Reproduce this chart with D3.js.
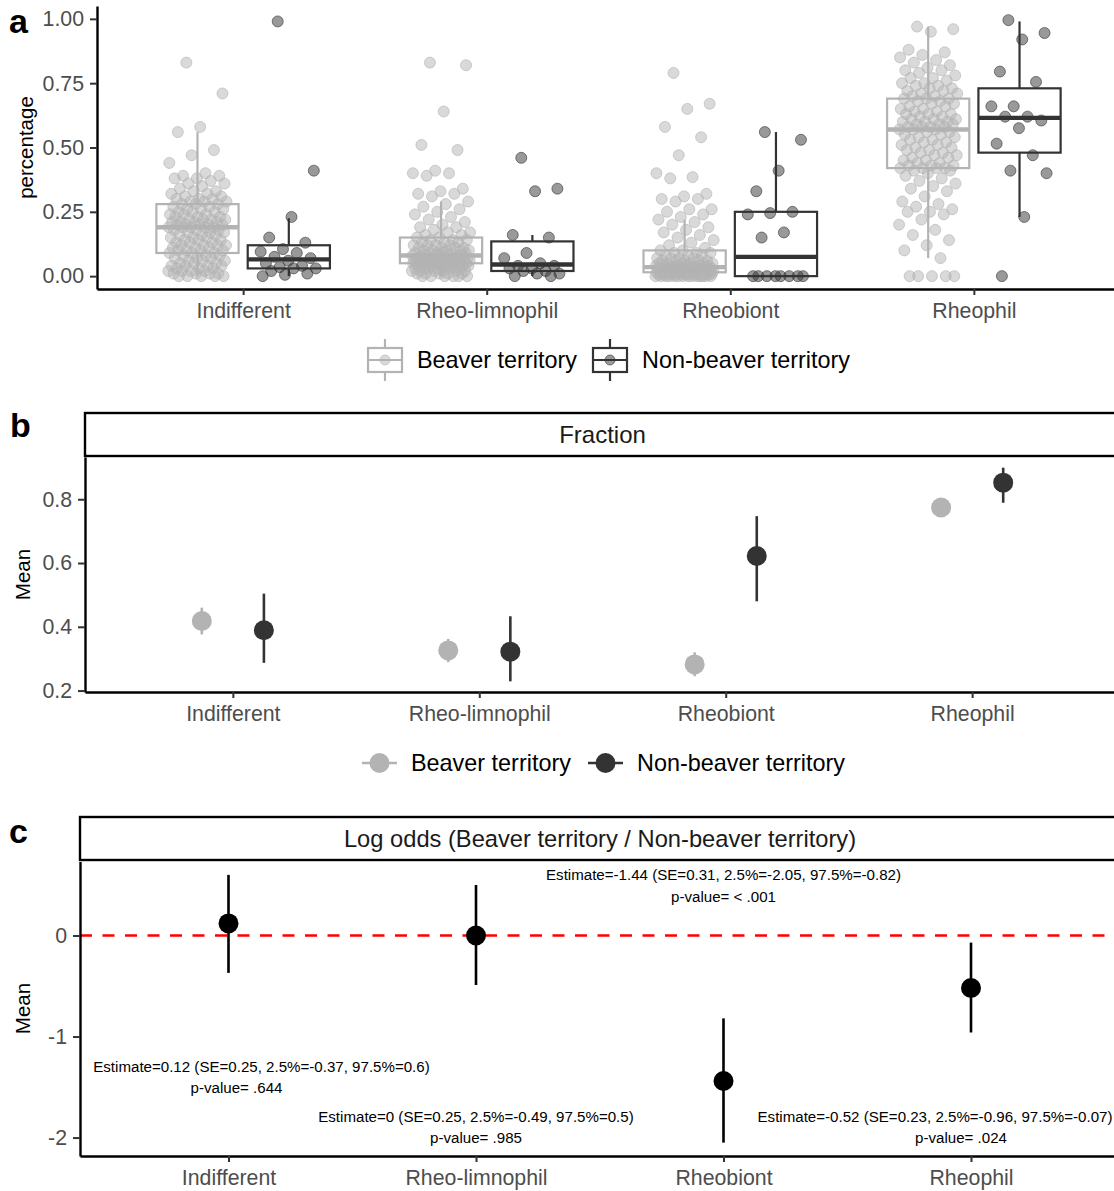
<!DOCTYPE html>
<html>
<head>
<meta charset="utf-8">
<script src="https://cdn.jsdelivr.net/npm/d3@7"></script>
<style>
  body { margin: 0; background: #fff; }
  svg { display: block; font-family: "Liberation Sans", Arial, Helvetica, sans-serif; }
</style>
</head>
<body>
<svg id="fig" width="1114" height="1191"></svg>
<script>
// ---------- data ----------
const categories = ["Indifferent", "Rheo-limnophil", "Rheobiont", "Rheophil"];
const groups = ["Beaver territory", "Non-beaver territory"];

// box summaries per category: [lower whisker, Q1, median, Q3, upper whisker]
const beaverBox = [
  [0.00, 0.09, 0.19, 0.28, 0.56],
  [0.00, 0.05, 0.08, 0.15, 0.29],
  [0.00, 0.015, 0.035, 0.10, 0.22],
  [0.07, 0.42, 0.57, 0.69, 0.97]
];
const nonBeaverBox = [
  [0.00, 0.03, 0.065, 0.12, 0.225],
  [0.00, 0.02, 0.045, 0.135, 0.16],
  [0.00, 0.00, 0.075, 0.25, 0.56],
  [0.23, 0.48, 0.615, 0.73, 0.99]
];

// site-level percentages, beaver territory
const beaverIndifferent = [0.83,0.71,0.58,0.56,0.49,0.47,0.44,0.40,0.39,0.39,0.38,0.38,0.37,0.36,0.36,0.35,0.34,0.33,0.33,0.32,0.32,0.31,0.31,0.30,0.30,0.30,0.29,0.29,0.29,0.28,0.28,0.28,
  0.27,0.27,0.26,0.26,0.26,0.25,0.25,0.25,0.24,0.24,0.24,0.23,0.23,0.23,0.22,0.22,0.22,0.22,0.21,0.21,0.21,0.21,0.20,0.20,0.20,0.20,0.20,0.19,0.19,0.19,0.19,0.19,
  0.18,0.18,0.18,0.17,0.17,0.17,0.16,0.16,0.16,0.15,0.15,0.15,0.14,0.14,0.14,0.13,0.13,0.13,0.12,0.12,0.12,0.12,0.11,0.11,0.11,0.10,0.10,0.10,0.10,0.09,0.09,0.09,
  0.08,0.08,0.08,0.07,0.07,0.07,0.06,0.06,0.06,0.05,0.05,0.05,0.04,0.04,0.04,0.04,0.03,0.03,0.03,0.02,0.02,0.02,0.02,0.01,0.01,0.01,0.01,0.00,0.00,0.00,0.00,0.00];
const beaverRheoLimnophil = [0.83,0.82,0.64,0.51,0.49,0.41,0.40,0.40,0.39,0.34,0.33,0.32,0.32,0.31,0.29,0.28,0.27,0.26,0.25,0.24,0.23,0.22,0.21,0.20,0.19,0.19,0.18,0.17,0.17,0.16,0.16,0.15,
  0.15,0.14,0.14,0.14,0.13,0.13,0.13,0.12,0.12,0.12,0.12,0.11,0.11,0.11,0.11,0.10,0.10,0.10,0.10,0.10,0.09,0.09,0.09,0.09,0.09,0.09,0.08,0.08,0.08,0.08,0.08,0.08,
  0.08,0.08,0.07,0.07,0.07,0.07,0.07,0.07,0.07,0.07,0.06,0.06,0.06,0.06,0.06,0.06,0.06,0.06,0.06,0.05,0.05,0.05,0.05,0.05,0.05,0.05,0.05,0.05,0.05,0.05,0.05,0.05,
  0.04,0.04,0.04,0.04,0.04,0.04,0.04,0.04,0.03,0.03,0.03,0.03,0.03,0.03,0.03,0.02,0.02,0.02,0.02,0.02,0.02,0.01,0.01,0.01,0.01,0.01,0.00,0.00,0.00,0.00,0.00,0.00];
const beaverRheobiont = [0.79,0.67,0.65,0.58,0.54,0.47,0.40,0.385,0.38,0.32,0.31,0.30,0.30,0.29,0.26,0.26,0.25,0.24,0.23,0.22,0.21,0.20,0.19,0.18,0.17,0.16,0.15,0.14,0.13,0.12,0.11,0.10,
  0.10,0.09,0.09,0.09,0.08,0.08,0.08,0.07,0.07,0.07,0.07,0.06,0.06,0.06,0.06,0.06,0.05,0.05,0.05,0.05,0.05,0.05,0.04,0.04,0.04,0.04,0.04,0.04,0.04,0.04,0.035,0.035,
  0.035,0.03,0.03,0.03,0.03,0.03,0.03,0.03,0.03,0.03,0.03,0.03,0.025,0.025,0.025,0.025,0.025,0.025,0.02,0.02,0.02,0.02,0.02,0.02,0.02,0.02,0.02,0.02,0.015,0.015,0.015,0.015,
  0.01,0.01,0.01,0.01,0.01,0.01,0.01,0.01,0.01,0.01,0.005,0.005,0.005,0.005,0.005,0.005,0.005,0.005,0.00,0.00,0.00,0.00,0.00,0.00,0.00,0.00,0.00,0.00,0.00,0.00,0.00,0.00];
const beaverRheophil = [0.97,0.96,0.95,0.88,0.87,0.86,0.85,0.84,0.83,0.82,0.81,0.80,0.80,0.79,0.78,0.77,0.77,0.76,0.75,0.75,0.74,0.74,0.73,0.73,0.72,0.72,0.71,0.71,0.70,0.70,0.69,0.69,
  0.69,0.68,0.68,0.67,0.67,0.66,0.66,0.65,0.65,0.64,0.64,0.63,0.63,0.63,0.62,0.62,0.61,0.61,0.61,0.60,0.60,0.60,0.59,0.59,0.59,0.58,0.58,0.58,0.58,0.57,0.57,0.57,
  0.56,0.56,0.55,0.55,0.54,0.54,0.53,0.53,0.52,0.52,0.51,0.51,0.50,0.50,0.49,0.49,0.48,0.48,0.47,0.47,0.46,0.46,0.45,0.45,0.44,0.44,0.43,0.43,0.43,0.42,0.42,0.42,
  0.42,0.41,0.41,0.40,0.39,0.38,0.37,0.36,0.35,0.34,0.33,0.31,0.29,0.28,0.27,0.26,0.25,0.25,0.24,0.22,0.20,0.18,0.16,0.14,0.12,0.10,0.07,0.00,0.00,0.00,0.00,0.00];

// site-level percentages, non-beaver territory
const nonBeaverIndifferent = [0.99,0.41,0.23,0.15,0.13,0.105,0.095,0.09,0.075,0.07,0.06,0.05,0.04,0.035,0.03,0.03,0.02,0.01,0.005,0.00];
const nonBeaverRheoLimnophil = [0.46,0.34,0.33,0.16,0.15,0.09,0.07,0.05,0.04,0.04,0.03,0.03,0.02,0.02,0.01,0.01,0.00,0.00];
const nonBeaverRheobiont = [0.56,0.53,0.41,0.33,0.25,0.245,0.24,0.17,0.15,0.00,0.00,0.00,0.00,0.00,0.00,0.00,0.00];
const nonBeaverRheophil = [0.995,0.945,0.92,0.795,0.755,0.66,0.66,0.62,0.62,0.605,0.575,0.515,0.47,0.41,0.40,0.23,0.00];

const beaverPoints = [beaverIndifferent, beaverRheoLimnophil, beaverRheobiont, beaverRheophil];
const nonBeaverPoints = [nonBeaverIndifferent, nonBeaverRheoLimnophil, nonBeaverRheobiont, nonBeaverRheophil];

// model fraction means with 95% intervals
const fracBeaverMean = [0.418, 0.326, 0.282, 0.774];
const fracBeaverLo   = [0.376, 0.289, 0.245, 0.760];
const fracBeaverHi   = [0.460, 0.362, 0.320, 0.788];
const fracNonBeaverMean = [0.389, 0.322, 0.622, 0.852];
const fracNonBeaverLo   = [0.287, 0.229, 0.480, 0.789];
const fracNonBeaverHi   = [0.504, 0.433, 0.747, 0.899];

// log odds (beaver / non-beaver)
const logOddsEst = [0.12, 0, -1.44, -0.52];
const logOddsSE  = [0.25, 0.25, 0.31, 0.23];
const logOddsLo  = [-0.37, -0.49, -2.05, -0.96];
const logOddsHi  = [0.6, 0.5, -0.82, -0.07];
const logOddsP   = [".644", ".985", "< .001", ".024"];

// ---------- styling ----------
const GREY = "#b3b3b3", DARK = "#333333";
const TICK_FONT = 21.3, TICK_COLOR = "#4d4d4d";
const svg = d3.select("#fig");

function styleAxis(g) {
  g.select(".domain").attr("stroke", "#000").attr("stroke-width", 2.4);
  g.selectAll(".tick line").attr("stroke", "#333").attr("stroke-width", 2);
  g.selectAll(".tick text").attr("fill", TICK_COLOR).style("font-size", TICK_FONT + "px");
}
function panelLabel(txt, x, y) {
  svg.append("text").attr("x", x).attr("y", y).text(txt)
    .style("font-size", "34px").style("font-weight", "bold").attr("fill", "#000");
}
function yTitle(txt, x, y, size) {
  svg.append("text").attr("transform", `translate(${x},${y}) rotate(-90)`)
    .attr("text-anchor", "middle").text(txt).style("font-size", size + "px").attr("fill", "#000");
}
function strip(x0, x1, y0, y1, txt, size) {
  svg.append("rect").attr("x", x0).attr("y", y0).attr("width", x1 - x0).attr("height", y1 - y0)
    .attr("fill", "#fff").attr("stroke", "#000").attr("stroke-width", 2.4);
  svg.append("text").attr("x", (x0 + 1120) / 2).attr("y", (y0 + y1) / 2).attr("dy", "0.35em")
    .attr("text-anchor", "middle").text(txt).style("font-size", size + "px").attr("fill", "#1a1a1a");
}
// deterministic horizontal spread for overlapping points
function spread(i) { return ((i * 0.6180339887 + 0.31) % 1) * 2 - 1; }

// ---------- panel a: boxplots ----------
{
  const x = d3.scalePoint().domain(categories).range([97, 1120]).padding(0.6);
  const y = d3.scaleLinear().domain([-0.05, 1.05]).range([289, 6]);
  const step = x.step();
  const off = 0.1875 * step, bw = 0.3375 * step, jit = 0.12 * step;
  const boxes = [beaverBox, nonBeaverBox], pts = [beaverPoints, nonBeaverPoints], cols = [GREY, DARK];

  const g = svg.append("g");
  groups.forEach((grp, gi) => {
    categories.forEach((cat, ci) => {
      const cx = x(cat) + (gi === 0 ? -off : off);
      const [lo, q1, med, q3, hi] = boxes[gi][ci];
      const c = cols[gi];
      g.append("line").attr("x1", cx).attr("x2", cx).attr("y1", y(q3)).attr("y2", y(hi)).attr("stroke", c).attr("stroke-width", 2.2);
      g.append("line").attr("x1", cx).attr("x2", cx).attr("y1", y(q1)).attr("y2", y(lo)).attr("stroke", c).attr("stroke-width", 2.2);
      g.append("rect").attr("x", cx - bw / 2).attr("y", y(q3)).attr("width", bw).attr("height", y(q1) - y(q3))
        .attr("fill", "#fff").attr("stroke", c).attr("stroke-width", 2.2);
      g.append("line").attr("x1", cx - bw / 2).attr("x2", cx + bw / 2).attr("y1", y(med)).attr("y2", y(med))
        .attr("stroke", c).attr("stroke-width", 4.4);
    });
  });
  groups.forEach((grp, gi) => {
    categories.forEach((cat, ci) => {
      const cx = x(cat) + (gi === 0 ? -off : off);
      g.selectAll(null).data(pts[gi][ci]).enter().append("circle")
        .attr("cx", (d, i) => cx + spread(i) * jit).attr("cy", d => y(d)).attr("r", 5.5)
        .attr("fill", cols[gi]).attr("fill-opacity", 0.5)
        .attr("stroke", cols[gi]).attr("stroke-opacity", 0.6).attr("stroke-width", 1);
    });
  });

  svg.append("g").attr("transform", "translate(0,289)")
    .call(d3.axisBottom(x).tickSize(6).tickPadding(8).tickSizeOuter(0)).call(styleAxis);
  svg.append("g").attr("transform", "translate(97,0)")
    .call(d3.axisLeft(y).tickValues([0, 0.25, 0.5, 0.75, 1]).tickFormat(d3.format(".2f")).tickSize(7).tickPadding(6).tickSizeOuter(0))
    .call(styleAxis);

  yTitle("percentage", 33, 147.5, 20.5);
  panelLabel("a", 9, 33);

  // legend
  const keys = [{x0: 368, tx: 417}, {x0: 593, tx: 642}];
  groups.forEach((grp, gi) => {
    const k = keys[gi], c = cols[gi], kc = k.x0 + 17;
    const lg = svg.append("g");
    lg.append("line").attr("x1", kc).attr("x2", kc).attr("y1", 339).attr("y2", 381).attr("stroke", c).attr("stroke-width", 2.2);
    lg.append("rect").attr("x", k.x0).attr("y", 348).attr("width", 34).attr("height", 24)
      .attr("fill", "#fff").attr("stroke", c).attr("stroke-width", 2.2);
    lg.append("line").attr("x1", k.x0).attr("x2", k.x0 + 34).attr("y1", 360).attr("y2", 360).attr("stroke", c).attr("stroke-width", 2.2);
    lg.append("circle").attr("cx", kc).attr("cy", 360).attr("r", 5).attr("fill", c).attr("fill-opacity", 0.5)
      .attr("stroke", c).attr("stroke-opacity", 0.6);
    lg.append("text").attr("x", k.tx).attr("y", 360).attr("dy", "0.35em").text(grp)
      .style("font-size", "23.4px").attr("fill", "#000");
  });
}

// ---------- panel b: fractions ----------
{
  const x = d3.scalePoint().domain(categories).range([85, 1120]).padding(0.6);
  const y = d3.scaleLinear().domain([0.1955, 0.9325]).range([692, 457]);
  const off = 0.126 * x.step();
  strip(85, 1125, 413, 456, "Fraction", 24);

  const series = [
    {m: fracBeaverMean, lo: fracBeaverLo, hi: fracBeaverHi, c: GREY, s: -1},
    {m: fracNonBeaverMean, lo: fracNonBeaverLo, hi: fracNonBeaverHi, c: DARK, s: 1}
  ];
  const g = svg.append("g");
  series.forEach(sr => {
    categories.forEach((cat, ci) => {
      const cx = x(cat) + sr.s * off;
      g.append("line").attr("x1", cx).attr("x2", cx).attr("y1", y(sr.lo[ci])).attr("y2", y(sr.hi[ci]))
        .attr("stroke", sr.c).attr("stroke-width", 2.6);
      g.append("circle").attr("cx", cx).attr("cy", y(sr.m[ci])).attr("r", 10).attr("fill", sr.c);
    });
  });

  svg.append("g").attr("transform", "translate(0,692)")
    .call(d3.axisBottom(x).tickSize(6).tickPadding(8).tickSizeOuter(0)).call(styleAxis);
  svg.append("g").attr("transform", "translate(85,0)")
    .call(d3.axisLeft(y).tickValues([0.2, 0.4, 0.6, 0.8]).tickFormat(d3.format(".1f")).tickSize(7).tickPadding(6).tickSizeOuter(0))
    .call(styleAxis);

  yTitle("Mean", 30, 574.5, 20.5);
  panelLabel("b", 10, 437);

  const keys = [{x0: 362, tx: 411}, {x0: 588, tx: 637}];
  groups.forEach((grp, gi) => {
    const k = keys[gi], c = series[gi].c;
    svg.append("line").attr("x1", k.x0).attr("x2", k.x0 + 35).attr("y1", 763).attr("y2", 763).attr("stroke", c).attr("stroke-width", 2.6);
    svg.append("circle").attr("cx", k.x0 + 17.5).attr("cy", 763).attr("r", 10).attr("fill", c);
    svg.append("text").attr("x", k.tx).attr("y", 763).attr("dy", "0.35em").text(grp)
      .style("font-size", "23.4px").attr("fill", "#000");
  });
}

// ---------- panel c: log odds ----------
{
  const x = d3.scalePoint().domain(categories).range([80, 1119.5]).padding(0.6);
  const y = d3.scaleLinear().domain([-2.1825, 0.7325]).range([1156, 861.5]);
  strip(80, 1125, 817, 860, "Log odds (Beaver territory / Non-beaver territory)", 23.7);

  const g = svg.append("g");
  g.append("line").attr("x1", 80).attr("x2", 1120).attr("y1", y(0)).attr("y2", y(0))
    .attr("stroke", "#ff0000").attr("stroke-width", 2.6).attr("stroke-dasharray", "12,10.5");

  categories.forEach((cat, ci) => {
    const cx = x(cat);
    g.append("line").attr("x1", cx).attr("x2", cx).attr("y1", y(logOddsLo[ci])).attr("y2", y(logOddsHi[ci]))
      .attr("stroke", "#000").attr("stroke-width", 2.6);
    g.append("circle").attr("cx", cx).attr("cy", y(logOddsEst[ci])).attr("r", 10).attr("fill", "#000");
  });

  // annotation placement: [line 1 dx, line 2 dx] in px from category, vertical centre in data units
  const annot = [
    {dx1: 33, dx2: 8, v1: -1.295, v2: -1.51},
    {dx1: 0, dx2: 0, v1: -1.79, v2: -2.0},
    {dx1: 0, dx2: 0, v1: 0.60, v2: 0.385},
    {dx1: -36, dx2: -10, v1: -1.79, v2: -2.0}
  ];
  categories.forEach((cat, ci) => {
    const a = annot[ci], cx = x(cat);
    const l1 = `Estimate=${logOddsEst[ci]} (SE=${logOddsSE[ci]}, 2.5%=${logOddsLo[ci]}, 97.5%=${logOddsHi[ci]})`;
    const l2 = `p-value= ${logOddsP[ci]}`;
    g.append("text").attr("x", cx + a.dx1).attr("y", y(a.v1)).attr("dy", "0.35em").attr("text-anchor", "middle")
      .text(l1).style("font-size", "15.1px").attr("fill", "#000");
    g.append("text").attr("x", cx + a.dx2).attr("y", y(a.v2)).attr("dy", "0.35em").attr("text-anchor", "middle")
      .text(l2).style("font-size", "15.1px").attr("fill", "#000");
  });

  svg.append("g").attr("transform", "translate(0,1156)")
    .call(d3.axisBottom(x).tickSize(6).tickPadding(8).tickSizeOuter(0)).call(styleAxis);
  svg.append("g").attr("transform", "translate(80,0)")
    .call(d3.axisLeft(y).tickValues([-2, -1, 0]).tickFormat(d => String(d)).tickSize(7).tickPadding(6).tickSizeOuter(0))
    .call(styleAxis);

  yTitle("Mean", 30, 1008.5, 20.5);
  panelLabel("c", 9, 843);
}
</script>
</body>
</html>
